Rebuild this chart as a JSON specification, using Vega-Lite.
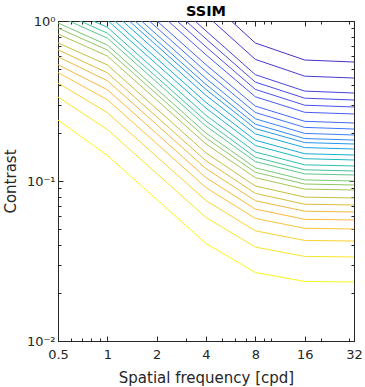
{
  "$schema": "https://vega.github.io/schema/vega-lite/v6.json",
  "width": 296,
  "height": 320,
  "autosize": {"type": "none"},
  "padding": {"left": 58, "top": 21, "right": 11, "bottom": 46},
  "background": "white",
  "title": {"text": "SSIM", "fontSize": 14.5, "fontWeight": "bold", "font": "DejaVu Sans", "color": "#000000", "offset": -4, "anchor": "middle", "frame": "group"},
  "config": {
    "view": {"stroke": "#262626", "strokeWidth": 1},
    "axis": {"grid": false, "domainColor": "#262626", "tickColor": "#262626", "labelColor": "#262626", "titleColor": "#262626", "labelFont": "DejaVu Sans", "titleFont": "DejaVu Sans", "labelFontSize": 13, "titleFontSize": 15, "titleFontWeight": "normal", "domainWidth": 1, "tickWidth": 1, "labelOverlap": false, "labelFlush": false}
  },
  "data": {"values": [
    {"k":0,"f":0.5,"c":0.2405},{"k":0,"f":1,"c":0.1444},{"k":0,"f":2,"c":0.07664},{"k":0,"f":4,"c":0.04068},{"k":0,"f":8,"c":0.0268},{"k":0,"f":16,"c":0.02355},{"k":0,"f":32,"c":0.02337},
    {"k":1,"f":0.5,"c":0.335},{"k":1,"f":1,"c":0.2098},{"k":1,"f":2,"c":0.1114},{"k":1,"f":4,"c":0.05914},{"k":1,"f":8,"c":0.03863},{"k":1,"f":16,"c":0.03379},{"k":1,"f":32,"c":0.0335},
    {"k":2,"f":0.5,"c":0.4097},{"k":2,"f":1,"c":0.2676},{"k":2,"f":2,"c":0.1421},{"k":2,"f":4,"c":0.07542},{"k":2,"f":8,"c":0.04883},{"k":2,"f":16,"c":0.04253},{"k":2,"f":32,"c":0.04217},
    {"k":3,"f":0.5,"c":0.4759},{"k":3,"f":1,"c":0.3226},{"k":3,"f":2,"c":0.1713},{"k":3,"f":4,"c":0.09094},{"k":3,"f":8,"c":0.05837},{"k":3,"f":16,"c":0.05063},{"k":3,"f":32,"c":0.05012},
    {"k":4,"f":0.5,"c":0.5332},{"k":4,"f":1,"c":0.372},{"k":4,"f":2,"c":0.1975},{"k":4,"f":4,"c":0.1049},{"k":4,"f":8,"c":0.06674},{"k":4,"f":16,"c":0.05762},{"k":4,"f":32,"c":0.05704},
    {"k":5,"f":0.5,"c":0.5983},{"k":5,"f":1,"c":0.4236},{"k":5,"f":2,"c":0.2249},{"k":5,"f":4,"c":0.1194},{"k":5,"f":8,"c":0.07532},{"k":5,"f":16,"c":0.06475},{"k":5,"f":32,"c":0.06401},
    {"k":6,"f":0.5,"c":0.6607},{"k":6,"f":1,"c":0.4745},{"k":6,"f":2,"c":0.2519},{"k":6,"f":4,"c":0.1338},{"k":6,"f":8,"c":0.08367},{"k":6,"f":16,"c":0.07161},{"k":6,"f":32,"c":0.07079},
    {"k":7,"f":0.5,"c":0.7296},{"k":7,"f":1,"c":0.5316},{"k":7,"f":2,"c":0.2822},{"k":7,"f":4,"c":0.1498},{"k":7,"f":8,"c":0.09305},{"k":7,"f":16,"c":0.07932},{"k":7,"f":32,"c":0.07829},
    {"k":8,"f":0.5,"c":0.8292},{"k":8,"f":1,"c":0.6042},{"k":8,"f":2,"c":0.3208},{"k":8,"f":4,"c":0.1703},{"k":8,"f":8,"c":0.1049},{"k":8,"f":16,"c":0.08901},{"k":8,"f":32,"c":0.08785},
    {"k":9,"f":0.5,"c":0.9042},{"k":9,"f":1,"c":0.6588},{"k":9,"f":2,"c":0.3497},{"k":9,"f":4,"c":0.1856},{"k":9,"f":8,"c":0.1133},{"k":9,"f":16,"c":0.09576},{"k":9,"f":32,"c":0.09441},
    {"k":10,"f":0.5,"c":0.9716},{"k":10,"f":1,"c":0.7079},{"k":10,"f":2,"c":0.3758},{"k":10,"f":4,"c":0.1995},{"k":10,"f":8,"c":0.1208},{"k":10,"f":16,"c":0.1016},{"k":10,"f":32,"c":0.1},
    {"k":11,"f":0.5,"c":1.073},{"k":11,"f":1,"c":0.7818},{"k":11,"f":2,"c":0.415},{"k":11,"f":4,"c":0.2203},{"k":11,"f":8,"c":0.1322},{"k":11,"f":16,"c":0.1108},{"k":11,"f":32,"c":0.109},
    {"k":12,"f":0.5,"c":1.153},{"k":12,"f":1,"c":0.8402},{"k":12,"f":2,"c":0.4461},{"k":12,"f":4,"c":0.2368},{"k":12,"f":8,"c":0.1408},{"k":12,"f":16,"c":0.1175},{"k":12,"f":32,"c":0.1155},
    {"k":13,"f":0.5,"c":1.254},{"k":13,"f":1,"c":0.9133},{"k":13,"f":2,"c":0.4849},{"k":13,"f":4,"c":0.2574},{"k":13,"f":8,"c":0.1518},{"k":13,"f":16,"c":0.1262},{"k":13,"f":32,"c":0.1241},
    {"k":14,"f":1,"c":1.012},{"k":14,"f":2,"c":0.537},{"k":14,"f":4,"c":0.2851},{"k":14,"f":8,"c":0.1667},{"k":14,"f":16,"c":0.1379},{"k":14,"f":32,"c":0.1353},
    {"k":15,"f":1,"c":1.1},{"k":15,"f":2,"c":0.5837},{"k":15,"f":4,"c":0.3099},{"k":15,"f":8,"c":0.1797},{"k":15,"f":16,"c":0.1481},{"k":15,"f":32,"c":0.1453},
    {"k":16,"f":1,"c":1.216},{"k":16,"f":2,"c":0.6457},{"k":16,"f":4,"c":0.3428},{"k":16,"f":8,"c":0.197},{"k":16,"f":16,"c":0.1617},{"k":16,"f":32,"c":0.1585},
    {"k":17,"f":1,"c":1.324},{"k":17,"f":2,"c":0.7029},{"k":17,"f":4,"c":0.3732},{"k":17,"f":8,"c":0.2126},{"k":17,"f":16,"c":0.1738},{"k":17,"f":32,"c":0.1703},
    {"k":18,"f":1,"c":1.423},{"k":18,"f":2,"c":0.7553},{"k":18,"f":4,"c":0.4011},{"k":18,"f":8,"c":0.2265},{"k":18,"f":16,"c":0.1843},{"k":18,"f":32,"c":0.1803},
    {"k":19,"f":1,"c":1.551},{"k":19,"f":2,"c":0.8232},{"k":19,"f":4,"c":0.4372},{"k":19,"f":8,"c":0.2448},{"k":19,"f":16,"c":0.1984},{"k":19,"f":32,"c":0.1939},
    {"k":20,"f":1,"c":1.713},{"k":20,"f":2,"c":0.9094},{"k":20,"f":4,"c":0.4828},{"k":20,"f":8,"c":0.268},{"k":20,"f":16,"c":0.2163},{"k":20,"f":32,"c":0.2113},
    {"k":21,"f":2,"c":1.004},{"k":21,"f":4,"c":0.5332},{"k":21,"f":8,"c":0.2938},{"k":21,"f":16,"c":0.2361},{"k":21,"f":32,"c":0.2304},
    {"k":22,"f":2,"c":1.158},{"k":22,"f":4,"c":0.6149},{"k":22,"f":8,"c":0.336},{"k":22,"f":16,"c":0.2688},{"k":22,"f":32,"c":0.2623},
    {"k":23,"f":2,"c":1.299},{"k":23,"f":4,"c":0.6898},{"k":23,"f":8,"c":0.3737},{"k":23,"f":16,"c":0.2977},{"k":23,"f":32,"c":0.2901},
    {"k":24,"f":2,"c":1.456},{"k":24,"f":4,"c":0.7727},{"k":24,"f":8,"c":0.415},{"k":24,"f":16,"c":0.3293},{"k":24,"f":32,"c":0.3208},
    {"k":25,"f":2,"c":1.634},{"k":25,"f":4,"c":0.8672},{"k":25,"f":8,"c":0.4618},{"k":25,"f":16,"c":0.3646},{"k":25,"f":32,"c":0.3548},
    {"k":26,"f":4,"c":1.09},{"k":26,"f":8,"c":0.5754},{"k":26,"f":16,"c":0.4522},{"k":26,"f":32,"c":0.4401},
    {"k":27,"f":4,"c":1.393},{"k":27,"f":8,"c":0.7286},{"k":27,"f":16,"c":0.5704},{"k":27,"f":32,"c":0.5541}
  ]},
  "layer": [
    {
      "mark": {"type": "line", "clip": true, "strokeWidth": 1},
      "encoding": {
        "x": {"field": "f", "type": "quantitative", "scale": {"type": "log", "base": 2, "domain": [0.5, 32], "nice": false},
          "axis": {"orient": "bottom", "title": "Spatial frequency [cpd]", "values": [0.5,0.6,0.7,0.8,0.9,1,2,3,4,5,6,7,8,9,10,16,20,30,32], "format": "~g",
            "labelExpr": "indexof([0.5,1,2,4,8,16,32], datum.value) >= 0 ? datum.label : ''",
            "tickSize": {"condition": {"test": "indexof([0.5,1,2,4,8,16,32], datum.value) >= 0", "value": -5}, "value": -3},
            "labelPadding": 12, "titlePadding": 7}},
        "y": {"field": "c", "type": "quantitative", "scale": {"type": "log", "domain": [0.01, 1], "nice": false},
          "axis": {"orient": "left", "title": "Contrast", "values": [0.01,0.02,0.03,0.04,0.05,0.06,0.07,0.08,0.09,0.1,0.2,0.3,0.4,0.5,0.6,0.7,0.8,0.9,1],
            "labelExpr": "datum.value == 1 ? '10⁰' : datum.value == 0.1 ? '10⁻¹' : datum.value == 0.01 ? '10⁻²' : ''",
            "tickSize": {"condition": {"test": "datum.value == 1 || datum.value == 0.1 || datum.value == 0.01", "value": -5}, "value": -3},
            "labelPadding": 8, "titlePadding": 8}},
        "color": {"field": "k", "type": "nominal", "legend": null,
          "scale": {"domain": [0,1,2,3,4,5,6,7,8,9,10,11,12,13,14,15,16,17,18,19,20,21,22,23,24,25,26,27],
            "range": ["#f9fa14","#f8e62a","#fad232","#fcc23a","#f8b83e","#ecba3c","#dabd38","#c4c03e","#a8c452","#8ec664","#78c876","#5cc78a","#44c49c","#30bfae","#1eb8c2","#14b0d2","#18a6de","#2498e8","#308cf0","#3a80f6","#4074fa","#4468fa","#475cf6","#4852f0","#484ae8","#4842de","#473ad2","#4532c4"]}}
      }
    },
    {
      "mark": {"type": "line", "opacity": 0, "clip": true},
      "encoding": {
        "x": {"field": "f", "type": "quantitative",
          "axis": {"orient": "top", "title": null, "labels": false, "values": [0.5,0.6,0.7,0.8,0.9,1,2,3,4,5,6,7,8,9,10,16,20,30,32],
            "tickSize": {"condition": {"test": "indexof([0.5,1,2,4,8,16,32], datum.value) >= 0", "value": -5}, "value": -3}}},
        "y": {"field": "c", "type": "quantitative",
          "axis": {"orient": "right", "title": null, "labels": false, "values": [0.01,0.02,0.03,0.04,0.05,0.06,0.07,0.08,0.09,0.1,0.2,0.3,0.4,0.5,0.6,0.7,0.8,0.9,1],
            "tickSize": {"condition": {"test": "datum.value == 1 || datum.value == 0.1 || datum.value == 0.01", "value": -5}, "value": -3}}}
      }
    }
  ],
  "resolve": {"axis": {"x": "independent", "y": "independent"}}
}
